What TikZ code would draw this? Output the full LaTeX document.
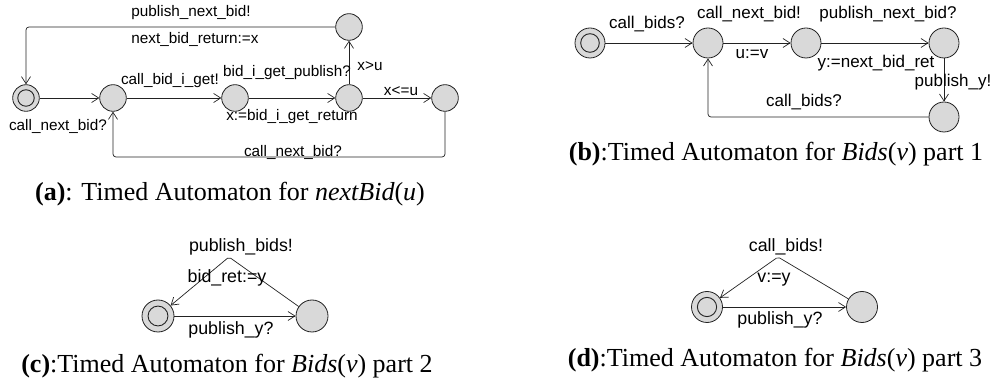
\documentclass[tikz,border=0pt]{standalone}
\usepackage{fontspec}
\setmainfont{Liberation Serif}
\newfontfamily\labfont{Liberation Sans}
\usetikzlibrary{arrows.meta}
\definecolor{locfill}{HTML}{D9D9D9}
\definecolor{locline}{HTML}{222222}
\tikzset{
  loc/.style={circle, draw=locline, fill=locfill, line width=0.8pt, inner sep=0pt, minimum size=#1},
  initloc/.style={loc=#1, path picture={\draw[locline, line width=0.9pt] (path picture bounding box.center) circle (0.31*#1);}},
  edge/.style={draw=locline, line width=0.7pt, rounded corners=3pt, -{Straight Barb[length=7pt,width=9pt]}},
  lbla/.style={font=\labfont\fontsize{15.3}{18}\selectfont, inner sep=0pt, text=black},
  lblb/.style={font=\labfont\fontsize{17}{20}\selectfont, inner sep=0pt, text=black},
  lblc/.style={font=\labfont\fontsize{17.8}{21}\selectfont, inner sep=0pt, text=black},
  capt/.style={font=\fontsize{26}{30}\selectfont, inner sep=0pt}
}
\begin{document}
\begin{tikzpicture}[x=1pt,y=-1pt]
\useasboundingbox (0,0) rectangle (994,387);
% ---------------- (a)
\node[initloc=26.6pt] (a0) at (26,98) {};
\node[loc=26.6pt] (a1) at (113,98) {};
\node[loc=26.6pt] (a2) at (235,98) {};
\node[loc=26.6pt] (a3) at (349,98) {};
\node[loc=26.6pt] (a4) at (445,98) {};
\node[loc=26.6pt] (a5) at (349,27) {};
\coordinate (ab) at (113,157);
\draw[edge] (a0) -- (a1);
\draw[edge] (a1) -- (a2);
\draw[edge] (a2) -- (a3);
\draw[edge] (a3) -- (a4);
\draw[edge] (a3) -- (a5);
\draw[edge] (a5.west) -| (a0.north);
\draw[edge] (a4.south) |- (ab) -- (a1.south);
\node[lbla] (la1) at (191,13) {publish\_next\_bid!};
\node[lbla] (la2) at (195,39) {next\_bid\_return:=x};
\node[lbla] (la3) at (58,126) {call\_next\_bid?};
\node[lbla] (la4) at (170,81) {call\_bid\_i\_get!};
\node[lbla] (la5) at (287,73) {bid\_i\_get\_publish?};
\node[lbla] (la6) at (292,117) {x:=bid\_i\_get\_return};
\node[lbla] (la7) at (370,66) {x>u};
\node[lbla] (la8) at (401,91) {x<=u};
\node[lbla] (la9) at (293,152) {call\_next\_bid?};
\node[capt] (capa) at (230,194) {\textbf{(a)}: Timed Automaton for \textit{nextBid}(\textit{u})};
% ---------------- (b)
\node[initloc=30pt] (b0) at (590,43) {};
\node[loc=30pt] (b1) at (708,43) {};
\node[loc=30pt] (b2) at (806,43) {};
\node[loc=30pt] (b3) at (944,43) {};
\node[loc=30pt] (b4) at (944,117) {};
\draw[edge] (b0) -- (b1);
\draw[edge] (b1) -- (b2);
\draw[edge] (b2) -- (b3);
\draw[edge] (b3) -- (b4);
\draw[edge] (b4.west) -| (b1.south);
\node[lblb] (lb1) at (647,24) {call\_bids?};
\node[lblb] (lb2) at (749,14) {call\_next\_bid!};
\node[lblb] (lb3) at (888,14) {publish\_next\_bid?};
\node[lblb] (lb4) at (752,54) {u:=v};
\node[lblb] (lb5) at (876,63) {y:=next\_bid\_ret};
\node[lblb] (lb6) at (953,82) {publish\_y!};
\node[lblb] (lb7) at (804,102) {call\_bids?};
\node[capt] (capb) at (776,154) {\textbf{(b)}:Timed Automaton for \textit{Bids}(\textit{v}) part 1};
% ---------------- (c)
\node[initloc=32pt] (c0) at (158,316) {};
\node[loc=32pt] (c1) at (312,316) {};
\coordinate (cap) at (229,257);
\draw[edge] (c0) -- (c1);
\draw[edge, rounded corners=2pt] (c1) -- (cap) -- (c0);
\node[lblc] (lc1) at (241,247) {publish\_bids!};
\node[lblc] (lc2) at (227,278) {bid\_ret:=y};
\node[lblc] (lc3) at (231,330) {publish\_y?};
\node[capt] (capc) at (227,366) {\textbf{(c)}:Timed Automaton for \textit{Bids}(\textit{v}) part 2};
% ---------------- (d)
\node[initloc=31pt] (d0) at (707,307) {};
\node[loc=31pt] (d1) at (862,307) {};
\coordinate (dap) at (778,257);
\draw[edge] (d0) -- (d1);
\draw[edge, rounded corners=2pt] (d1) -- (dap) -- (d0);
\node[lblc] (ld1) at (786,247) {call\_bids!};
\node[lblc] (ld2) at (774,280) {v:=y};
\node[lblc] (ld3) at (780,320) {publish\_y?};
\node[capt] (capd) at (775,360) {\textbf{(d)}:Timed Automaton for \textit{Bids}(\textit{v}) part 3};
\end{tikzpicture}
\end{document}
